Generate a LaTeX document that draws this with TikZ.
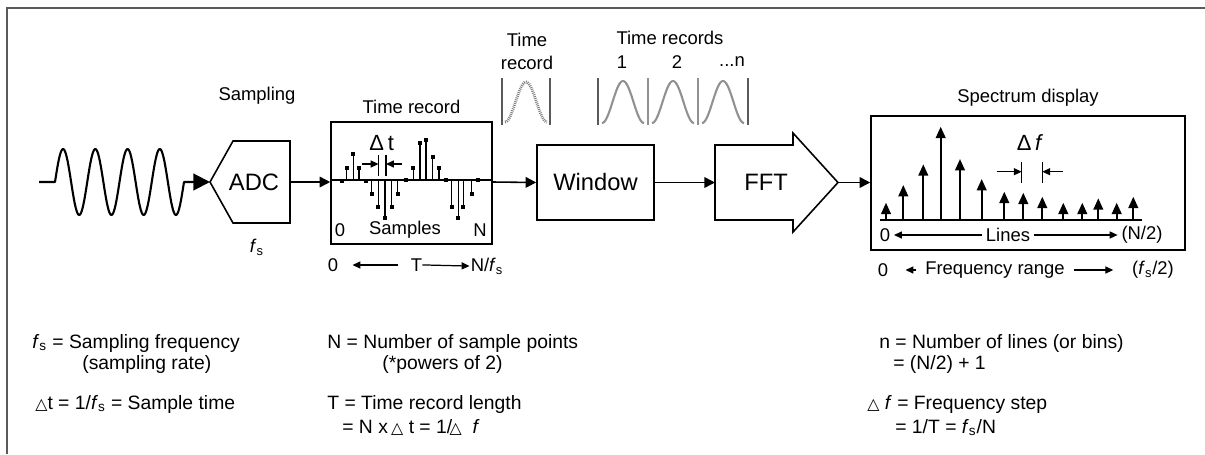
\documentclass[tikz,border=0pt]{standalone}
\usepackage{fontspec}
\setmainfont{Liberation Sans}
\newfontfamily\symfont{DejaVu Sans}
\usetikzlibrary{arrows.meta, positioning, calc}
\definecolor{cFrame}{RGB}{90,90,90}
\definecolor{cIcon}{RGB}{145,145,145}
\newcommand{\fsub}{\textit{f}\textsubscript{s}}
\newcommand{\tri}{{\symfont\fontsize{9}{9}\selectfont △}}
\tikzset{
	blk/.style      ={rectangle, draw=black, line width=0.9pt, inner sep=0pt, font=\fontsize{13.5}{15}\selectfont},
	lbl/.style      ={inner sep=2pt, font=\fontsize{10.5}{13}\selectfont},
	note/.style     ={anchor=base west, inner sep=0pt, font=\fontsize{11}{13}\selectfont},
	sig/.style      ={-{Triangle[length=6pt, width=6pt]}, line width=0.9pt},
	thinarrow/.style={-{Triangle[length=4.5pt, width=4pt]}, line width=0.7pt},
	specarrow/.style={-{Triangle[length=6.5pt, width=5.5pt]}, line width=1.2pt},
	stem/.style     ={line width=0.65pt},
	wave/.style     ={line width=1.2pt, line join=round},
	hann/.style     ={cIcon, line width=1.2pt},
}
\begin{document}
\begin{tikzpicture}[x=0.02cm, y=-0.02cm]
	\useasboundingbox (0,0) rectangle (1205,454);
	\draw[cFrame, line width=1.2pt] (1205,8) -- (7,8) -- (7,454);
	% input signal
	\coordinate (waveE) at (193,182);
	\draw[wave] (39,182) -- (55,182) -- plot[domain=55:184, samples=150, smooth] (\x,{182-33*sin((\x-55)*11.163)}) -- (waveE);
	% ADC
	\coordinate (adcW) at (210,182);
	\coordinate (adcE) at (290,182);
	\draw[line width=0.9pt] (adcW) -- (233,141) -- (290,141) -- (290,223) -- (233,223) -- cycle;
	\node[blk, draw=none] (adc) at (254,182) {ADC};
	\node[lbl] (samp) at (257,96) {Sampling};
	\node[lbl] (adcfs) at (257,247) {\fsub};
	\draw[wave, -{Triangle[length=9.5pt, width=9.5pt]}] (waveE) -- (adcW);
	% time record
	\node[blk, minimum width=3.22cm, minimum height=2.44cm] (trec) at (411.5,183) {};
	\node[lbl, above=0.08cm of trec] (trtitle) {Time record};
	\draw[line width=0.8pt] (331,180) -- (492,180);
	\foreach \x/\h in {341.7/-1, 346.7/11.7, 353.3/26, 359/11.7, 365.7/-1, 371.7/-13.7, 378.3/-26.7, 385/-37.7, 391.7/-26.7, 397.7/-13.7, 405.7/0, 413.3/11.7, 420/36.7, 426/39.7, 432.7/23, 439/11.7, 446/0, 451.7/-26.7, 458.3/-37.7, 463.3/-26.7, 471.7/-13.7, 477.7/0} {
		\draw[stem] (\x,180) -- (\x,{180-(\h)});
		\fill (\x-1.9,{180-(\h)-1.9}) rectangle (\x+1.9,{180-(\h)+1.9});
	}
	\node[inner sep=1pt, font=\fontsize{12.5}{14}\selectfont] (dt) at (381.7,143) {Δ\,t};
	\coordinate (dtL) at (378.6,164);
	\coordinate (dtR) at (386,164);
	\coordinate (dtLs) at (362,164);
	\coordinate (dtRs) at (402,164);
	\draw[stem] (378.6,155) -- (378.6,176);
	\draw[stem] (386,155) -- (386,176);
	\draw[thinarrow] (dtLs) -- (dtL);
	\draw[thinarrow] (dtRs) -- (dtR);
	\node[lbl] (smp0) at (340,230) {0};
	\node[lbl] (smp) at (405,230) {Samples};
	\node[lbl] (smpN) at (480,230) {N};
	\node[lbl] (t0) at (333,265) {0};
	\node[lbl] (tT) at (416.5,265) {T};
	\node[lbl] (tN) at (487,266) {N/\fsub};
	\draw[thinarrow, shorten <=0.19cm, shorten >=0.21cm] (tT.west) -- (t0.east);
	\draw[thinarrow, shorten <=-2pt, shorten >=-1.5pt] (tT.east) -- (tN.west);
	% window
	\node[blk, minimum width=2.34cm, minimum height=1.5cm] (win) at (595.5,182.5) {Window};
	\draw[sig] (adcE) -- (trec.west |- adcE);
	\draw[sig] (trec.east |- adcE) -- (win.west);
	% time record icons
	\node[lbl, align=center, font=\fontsize{10.5}{13}\selectfont] (wtr) at (527,51) {Time\\record};
	\draw[cFrame, line width=0.7pt] (502,78) -- (502,125);
	\draw[cFrame, line width=0.7pt] (550,78) -- (550,125);
	\draw[cFrame!80, line width=1.6pt, dash pattern=on 0.5pt off 0.6pt] plot[domain=505:547, samples=40] (\x,{122-40*(0.5-0.5*cos((\x-505)*8.5714))});
	\node[lbl] (wtrs) at (670,38) {Time records};
	\node[lbl] (wn1) at (622,62) {1};
	\node[lbl] (wn2) at (677,62) {2};
	\node[lbl] (wnn) at (732,62) {...n};
	\foreach \b/\c in {598/cFrame, 648/cIcon, 698/cIcon, 748/cFrame}
		\draw[\c, line width=0.7pt] (\b,78) -- (\b,125);
	\foreach \b [evaluate=\b as \bs using \b+4, evaluate=\b as \be using \b+46] in {598,648,698}
		\draw[hann] plot[domain=\bs:\be, samples=40] (\x,{123-42*(0.5-0.5*cos((\x-\bs)*8.5714))});
	% FFT
	\coordinate (fftW) at (715,182.5);
	\coordinate (fftE) at (838,182.5);
	\draw[line width=0.9pt] (fftW |- 0,145) -- (793,145) -- (793,133) -- (fftE) -- (793,232) -- (793,220) -- (fftW |- 0,220) -- cycle;
	\node[blk, draw=none] (fft) at (766,182.5) {FFT};
	\draw[sig] (win.east) -- (fftW);
	% spectrum display
	\node[blk, minimum width=6.28cm, minimum height=2.68cm] (spec) at (1028,183) {};
	\node[lbl, above=0.1cm of spec] (spectitle) {Spectrum display};
	\draw[sig] (fftE) -- (spec.west |- fftE);
	\draw[line width=1.2pt] (880,220) -- (1142,220);
	\foreach \x/\h in {886/17.3, 903.3/35, 923.3/55.7, 940.7/93.3, 960/61, 981.7/41, 1004.3/28.3, 1023.3/27.3, 1042.3/23.3, 1063.3/17.3, 1082.3/17.3, 1098.3/21.7, 1116.7/17.3, 1133.3/23.3}
		\draw[specarrow] (\x,220) -- (\x,{220-\h});
	\node[inner sep=1pt, font=\fontsize{12.5}{14}\selectfont] (df) at (1030,143) {Δ\,\textit{f}};
	\coordinate (dfL) at (1021.7,171.7);
	\coordinate (dfR) at (1042.3,171.7);
	\coordinate (dfLs) at (996.7,171.7);
	\coordinate (dfRs) at (1063,171.7);
	\draw[stem] (1021.7,162) -- (1021.7,183);
	\draw[stem] (1042.3,162) -- (1042.3,183);
	\draw[thinarrow] (dfLs) -- (dfL);
	\draw[thinarrow] (dfRs) -- (dfR);
	\node[lbl] (l0) at (885,235) {0};
	\node[lbl] (lines) at (1008,235) {Lines};
	\node[lbl] (lN) at (1142,235) {(N/2)};
	\draw[thinarrow] (lines.west) -- (l0.east);
	\draw[thinarrow] (lines.east) -- (lN.west);
	\node[lbl] (f0) at (883,270) {0};
	\node[lbl] (frange) at (995,270) {Frequency range};
	\node[lbl] (fend) at (1153,270) {(\fsub/2)};
	\draw[thinarrow, shorten <=0.1cm, shorten >=0.27cm] (frange.west) -- (f0.east);
	\draw[thinarrow, shorten <=0.11cm, shorten >=0.3cm] (frange.east) -- (fend.west);
	% definitions
	\node[note] (n1) at (32,348) {\fsub{} = Sampling frequency};
	\node[note] (n2) at (82,369) {(sampling rate)};
	\node[note] (n3) at (35,409) {\tri t = 1/\fsub{} = Sample time};
	\node[note] (n4) at (327,348) {N = Number of sample points};
	\node[note] (n5) at (382,369) {(*powers of 2)};
	\node[note] (n6) at (327,409) {T = Time record length};
	\node[note] (n7) at (342,433) {= N x\,\tri\ t = 1/\kern-1.5pt\tri\ \ \textit{f}};
	\node[note] (n8) at (879,348) {n = Number of lines (or bins)};
	\node[note] (n9) at (893,369) {= (N/2) + 1};
	\node[note] (n10) at (867,409) {\tri\ \textit{f} = Frequency step};
	\node[note] (n11) at (895,433) {= 1/T = \fsub/N};
\end{tikzpicture}
\end{document}
